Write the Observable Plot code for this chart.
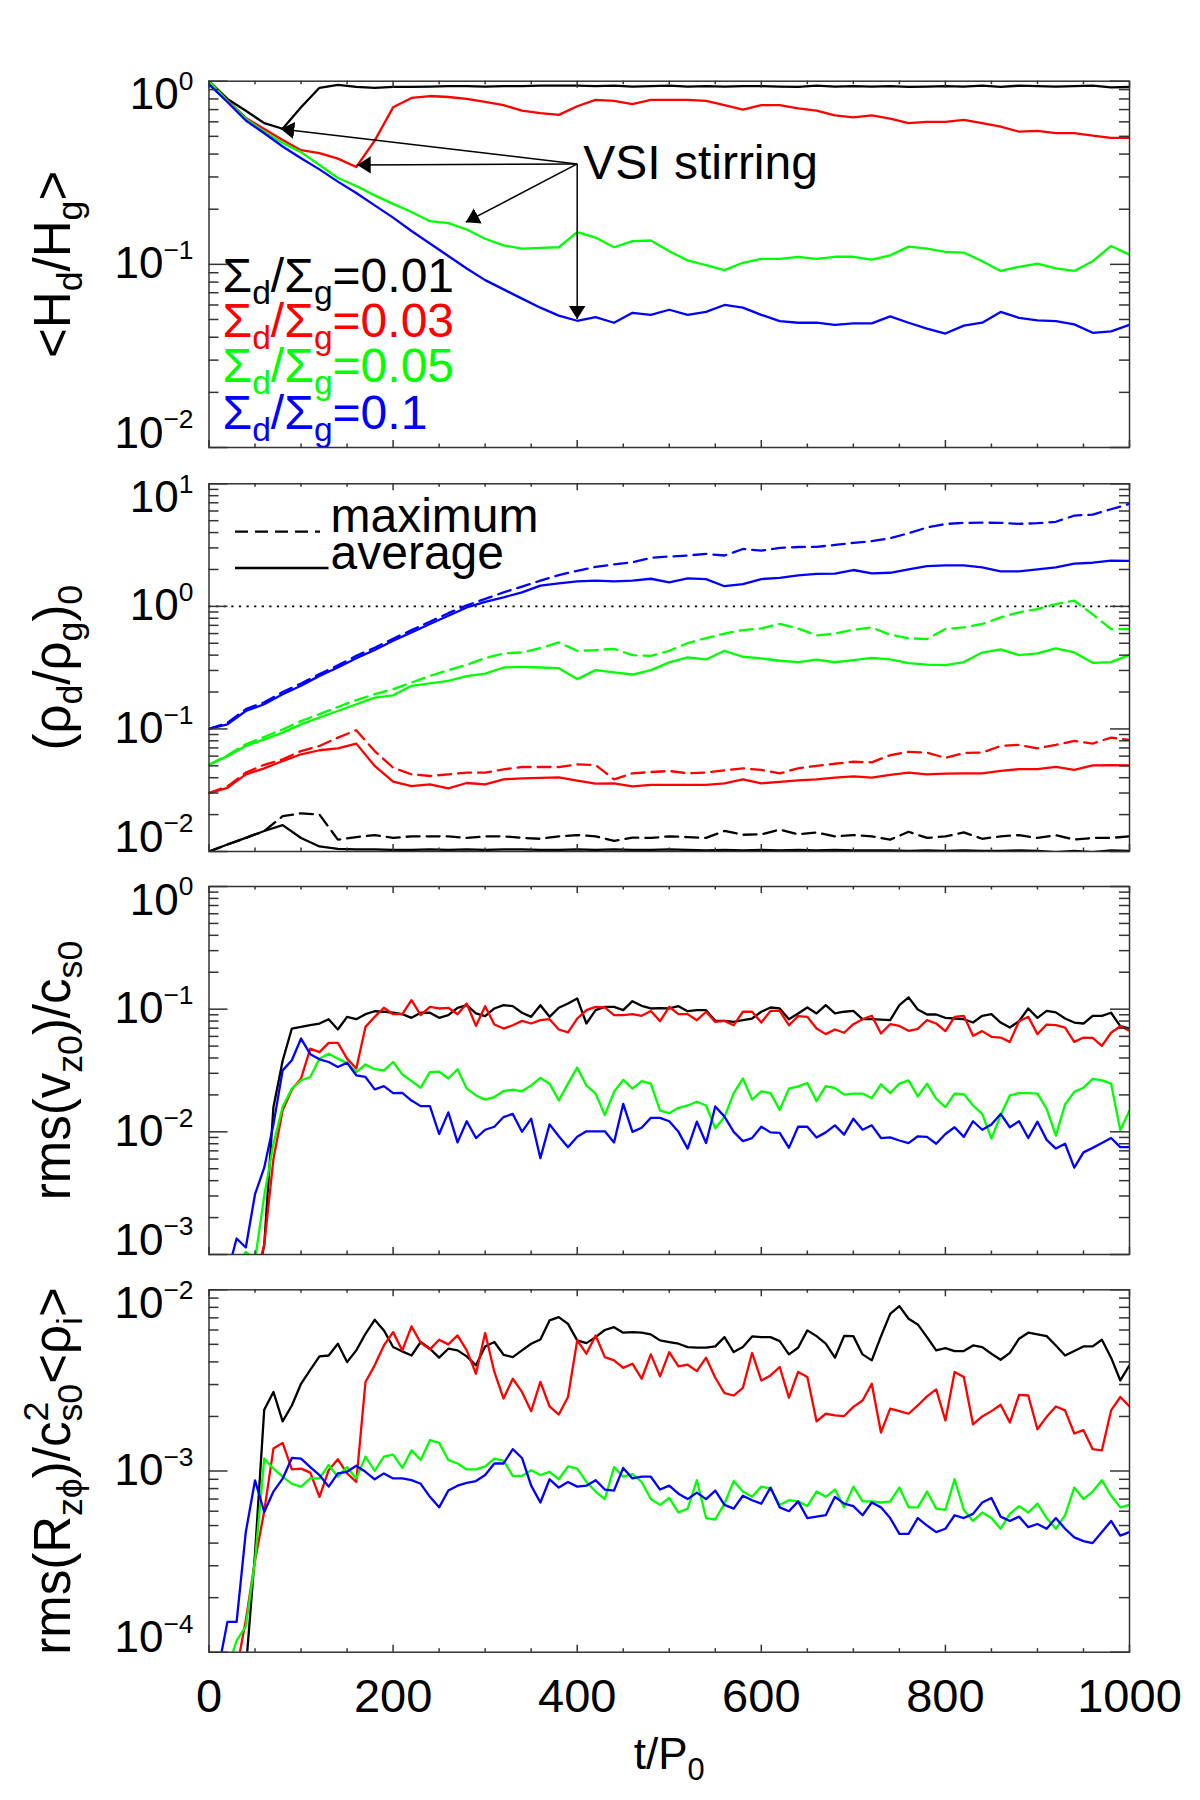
<!DOCTYPE html>
<html>
<head>
<meta charset="utf-8">
<title>Dust settling and VSI stirring</title>
<script src="https://cdn.jsdelivr.net/npm/d3@7"></script>
<script src="https://cdn.jsdelivr.net/npm/@observablehq/plot@0.6"></script>
<style>
  html, body { margin: 0; padding: 0; background: #fff; }
  #chart { width: 1200px; }
  #chart svg { display: block; }
</style>
</head>
<body>
<div id="chart"></div>
<script>
// ================= DATA =================
const seriesLabels = ["Σ_{d}/Σ_{g}=0.01", "Σ_{d}/Σ_{g}=0.03", "Σ_{d}/Σ_{g}=0.05", "Σ_{d}/Σ_{g}=0.1"];
const seriesColors = ["#000000", "#ff0000", "#00ff00", "#0000ff"];

const xMajorTicks = [0, 200, 400, 600, 800, 1000];
const xMinorTicks = [50, 100, 150, 250, 300, 350, 450, 500, 550, 650, 700, 750, 850, 900, 950];

const t20 = [0,20,40,60,80,100,120,140,160,180,200,220,240,260,280,300,320,340,360,380,400,420,440,460,480,500,520,540,560,580,600,620,640,660,680,700,720,740,760,780,800,820,840,860,880,900,920,940,960,980,1000];
const t10 = [0,10,20,30,40,50,60,70,80,90,100,110,120,130,140,150,160,170,180,190,200,210,220,230,240,250,260,270,280,290,300,310,320,330,340,350,360,370,380,390,400,410,420,430,440,450,460,470,480,490,500,510,520,530,540,550,560,570,580,590,600,610,620,630,640,650,660,670,680,690,700,710,720,730,740,750,760,770,780,790,800,810,820,830,840,850,860,870,880,890,900,910,920,930,940,950,960,970,980,990,1000];

// Panel 1: <H_d/H_g>  (sampled on t20)
const hdBlack = [1.0,0.80,0.69,0.59,0.55,0.72,0.92,0.955,0.93,0.92, 0.93,0.93,0.935,0.94,0.94,0.935,0.94,0.94,0.945,0.945, 0.945,0.94,0.945,0.935,0.94,0.945,0.935,0.94,0.935,0.94, 0.94,0.935,0.93,0.945,0.935,0.94,0.935,0.94,0.93,0.935, 0.94,0.935,0.945,0.93,0.945,0.94,0.935,0.94,0.945,0.925, 0.93];
const hdRed = [1.0,0.785,0.63,0.549,0.478,0.42,0.405,0.378,0.34,0.474, 0.72,0.81,0.83,0.82,0.80,0.77,0.74,0.69,0.67,0.655, 0.73,0.79,0.78,0.75,0.79,0.79,0.79,0.78,0.74,0.70, 0.74,0.74,0.71,0.69,0.65,0.635,0.65,0.625,0.59,0.60, 0.60,0.615,0.59,0.565,0.53,0.535,0.52,0.52,0.505,0.49, 0.49];
const hdGreen = [1.0,0.78,0.623,0.53,0.46,0.41,0.349,0.296,0.268,0.238, 0.214,0.193,0.172,0.168,0.155,0.138,0.127,0.122,0.123,0.124, 0.15,0.14,0.124,0.134,0.135,0.118,0.105,0.099,0.093,0.102, 0.107,0.107,0.110,0.107,0.110,0.110,0.106,0.112,0.125,0.122, 0.117,0.116,0.104,0.092,0.097,0.101,0.095,0.092,0.104,0.126, 0.113];
const hdBlue = [0.96,0.77,0.61,0.52,0.44,0.38,0.33,0.283,0.245,0.21, 0.18,0.152,0.13,0.111,0.095,0.082,0.073,0.065,0.058,0.0525, 0.0492,0.0515,0.048,0.0544,0.053,0.0565,0.053,0.055,0.060,0.058, 0.053,0.049,0.048,0.048,0.0467,0.0476,0.0476,0.052,0.048,0.0446, 0.0419,0.0463,0.048,0.055,0.051,0.0495,0.049,0.047,0.0423,0.0431, 0.0467];

// VSI stirring annotation (origin and arrow targets, data coordinates)
const stirOrigin = {t: 400, v: 0.3535};
const stirTargetT = [78, 161, 279, 400];
const stirTargetV = [0.549, 0.349, 0.170, 0.0503];

// Panel 2: (rho_d/rho_g)_0 average (solid) and maximum (dashed)  (t20)
const rhoAvgBlack = [0.0100,0.0114,0.0129,0.0147,0.0164,0.0129,0.0110,0.0105,0.0104,0.0104, 0.0103,0.0103,0.0104,0.0103,0.0104,0.0103,0.0104,0.0104,0.0103,0.0103, 0.0104,0.0103,0.0104,0.0103,0.0103,0.0104,0.0103,0.0102,0.0103,0.0102, 0.0103,0.0102,0.0103,0.0102,0.0103,0.0102,0.0102,0.0102,0.0101,0.0102, 0.0101,0.0102,0.0101,0.0101,0.0102,0.0101,0.0099,0.0101,0.0099,0.0102, 0.0101];
const rhoMaxBlack = [0.0100,0.0114,0.0129,0.0147,0.0194,0.0205,0.0200,0.0125,0.0131,0.0136, 0.0129,0.0133,0.0133,0.0133,0.0129,0.0133,0.0133,0.0129,0.0127,0.0133, 0.0136,0.0133,0.0122,0.0130,0.0129,0.0133,0.0131,0.0129,0.0147,0.0137, 0.0138,0.0151,0.0138,0.0143,0.0133,0.0136,0.0133,0.0125,0.0145,0.0129, 0.0133,0.0143,0.0127,0.0133,0.0136,0.0129,0.0136,0.0125,0.0129,0.0129, 0.0133];
const rhoAvgRed = [0.030,0.033,0.0426,0.0477,0.0547,0.0621,0.067,0.0695,0.0759,0.0499, 0.0371,0.0342,0.0353,0.0327,0.0362,0.0353,0.0388,0.0395,0.0399,0.0403, 0.0379,0.0358,0.036,0.034,0.0349,0.035,0.0349,0.0349,0.036,0.0388, 0.036,0.037,0.038,0.0388,0.040,0.041,0.040,0.0421,0.044,0.0426, 0.0432,0.0434,0.0434,0.0454,0.047,0.047,0.049,0.0463,0.0504,0.0507, 0.0504];
const rhoMaxRed = [0.030,0.034,0.044,0.051,0.0565,0.066,0.0726,0.085,0.0975,0.066, 0.0483,0.0426,0.0413,0.0426,0.044,0.044,0.0468,0.0489,0.0489,0.0489, 0.0514,0.0508,0.0388,0.0434,0.0445,0.0454,0.0434,0.044,0.046,0.0477, 0.0463,0.0434,0.0477,0.050,0.052,0.054,0.0534,0.061,0.065,0.064, 0.058,0.0637,0.0641,0.0726,0.0741,0.0695,0.0741,0.0798,0.076,0.085, 0.0812];
const rhoAvgGreen = [0.051,0.060,0.0726,0.0823,0.0933,0.109,0.124,0.140,0.159,0.180, 0.188,0.225,0.235,0.247,0.270,0.283,0.317,0.321,0.317,0.313, 0.255,0.302,0.289,0.278,0.302,0.349,0.383,0.369,0.434,0.388, 0.376,0.36,0.351,0.367,0.35,0.364,0.380,0.369,0.344,0.335, 0.331,0.351,0.42,0.445,0.40,0.413,0.454,0.421,0.346,0.351, 0.403];
const rhoMaxGreen = [0.051,0.061,0.075,0.086,0.099,0.116,0.132,0.151,0.172,0.192, 0.211,0.239,0.271,0.302,0.334,0.378,0.413,0.421,0.457,0.508, 0.434,0.44,0.45,0.40,0.395,0.434,0.502,0.551,0.60,0.641, 0.661,0.72,0.66,0.58,0.60,0.645,0.674,0.586,0.55,0.541, 0.653,0.674,0.718,0.813,0.893,0.951,1.045,1.112,0.86,0.653, 0.653];
const rhoAvgBlue = [0.10,0.109,0.14,0.159,0.192,0.225,0.271,0.317,0.378,0.44, 0.524,0.613,0.717,0.839,0.98,1.09,1.185,1.30,1.476,1.54, 1.60,1.62,1.60,1.62,1.68,1.57,1.69,1.67,1.46,1.52, 1.67,1.71,1.79,1.84,1.85,1.98,1.86,1.88,2.0,2.13, 2.16,2.16,2.08,1.93,1.93,2.0,2.08,2.23,2.27,2.36, 2.35];
const rhoMaxBlue = [0.10,0.112,0.145,0.165,0.20,0.235,0.28,0.33,0.395,0.46, 0.545,0.64,0.75,0.88,1.02,1.15,1.30,1.45,1.62,1.80, 1.95,2.10,2.2,2.29,2.49,2.55,2.6,2.68,2.6,2.94, 2.85,3.0,3.05,3.06,3.17,3.3,3.4,3.6,3.95,4.4, 4.7,4.8,4.82,4.8,4.71,4.77,4.9,5.5,5.61,6.2, 6.86];
const rhoReference = [1];

// Panel 3: rms(v_z0)/c_s0  (t10)
const vzBlack = [0.0002,0.0002,0.0002,0.0002,0.0003,0.0005,0.0012,0.0159,0.038,0.0695, 0.0717,0.074,0.0764,0.0828,0.0683,0.0866,0.0828,0.091,0.0962,0.0953, 0.0935,0.091,0.085,0.0935,0.0935,0.085,0.0894,0.1026,0.1078,0.0923, 0.0877,0.1013,0.1078,0.1058,0.0935,0.0866,0.1078,0.0866,0.1026,0.1112, 0.1223,0.0764,0.0981,0.1045,0.1045,0.0981,0.1162,0.1065,0.1013,0.1019, 0.1013,0.1058,0.0962,0.0981,0.0981,0.0803,0.0803,0.0788,0.0813,0.0839, 0.0953,0.1032,0.1013,0.0828,0.0923,0.1032,0.0923,0.1078,0.0923,0.0953, 0.0968,0.0828,0.0828,0.0823,0.0813,0.1078,0.1248,0.0994,0.0905,0.0905, 0.085,0.0839,0.0828,0.0778,0.0883,0.091,0.0778,0.0708,0.0798,0.1013, 0.085,0.0968,0.0941,0.0839,0.0778,0.0764,0.0883,0.0883,0.0935,0.0726, 0.0695];
const vzRed = [0.0002,0.0002,0.0003,0.0003,0.0004,0.0006,0.0012,0.006,0.015,0.022, 0.0272,0.0477,0.0447,0.0531,0.0531,0.0395,0.0328,0.0717,0.0866,0.1026, 0.091,0.091,0.1185,0.0894,0.1045,0.1013,0.1026,0.091,0.1112,0.073, 0.1058,0.0749,0.0695,0.074,0.0803,0.0764,0.0813,0.0828,0.0683,0.0646, 0.0839,0.0981,0.1045,0.1032,0.0894,0.0894,0.091,0.0883,0.0968,0.0798, 0.1045,0.091,0.091,0.0813,0.0953,0.0788,0.0803,0.074,0.0953,0.0953, 0.0778,0.0968,0.0968,0.074,0.0877,0.0866,0.0695,0.0626,0.0683,0.0642, 0.0754,0.0828,0.0883,0.0634,0.0754,0.073,0.0666,0.0691,0.0813,0.0764, 0.0662,0.0866,0.0883,0.0606,0.0662,0.0595,0.0587,0.0541,0.0798,0.0866, 0.0626,0.0749,0.074,0.0708,0.0541,0.0587,0.0584,0.0502,0.0642,0.0726, 0.0666];
const vzGreen = [0.0003,0.0004,0.0006,0.0008,0.00105,0.0009,0.0030,0.0080,0.0160,0.0225, 0.0263,0.028,0.0395,0.0434,0.0395,0.0364,0.0307,0.0354,0.0324,0.0317, 0.0371,0.0294,0.0259,0.0229,0.0307,0.031,0.0272,0.0324,0.0225,0.0198, 0.0183,0.0192,0.0215,0.0221,0.0214,0.0239,0.0275,0.0247,0.018,0.0247, 0.0334,0.0239,0.0205,0.0137,0.0212,0.0265,0.0225,0.0259,0.0247,0.0149, 0.0142,0.0157,0.0164,0.0176,0.0164,0.0107,0.0132,0.0207,0.0272,0.0183, 0.0214,0.0207,0.0151,0.0225,0.0235,0.025,0.0178,0.0236,0.0227,0.0201, 0.0205,0.0205,0.0188,0.0244,0.0207,0.0247,0.0263,0.0194,0.0247,0.0186, 0.0159,0.0205,0.0203,0.0164,0.014,0.0088,0.0137,0.0198,0.0207,0.0207, 0.0205,0.0154,0.0093,0.0167,0.0212,0.0229,0.027,0.0263,0.0247,0.0103, 0.0149];
const vzBlue = [0.0003,0.0004,0.0007,0.00135,0.00114,0.0031,0.0051,0.0115,0.0317,0.0383, 0.0576,0.043,0.039,0.0371,0.0338,0.0366,0.0289,0.028,0.0222,0.0236, 0.0207,0.0208,0.018,0.0162,0.0162,0.0096,0.0144,0.0082,0.0122,0.0089, 0.0104,0.0110,0.0132,0.014,0.0100,0.0128,0.0061,0.0115,0.0092,0.0075, 0.0091,0.0101,0.0101,0.0101,0.0082,0.0169,0.0100,0.0108,0.013,0.013, 0.0122,0.0100,0.0073,0.0121,0.0081,0.0161,0.0133,0.0100,0.0084,0.0089, 0.011,0.0099,0.0098,0.0074,0.011,0.011,0.009,0.0099,0.0113,0.0095, 0.0128,0.0104,0.0113,0.0089,0.009,0.0085,0.0081,0.0092,0.0091,0.008, 0.0096,0.0109,0.0091,0.0122,0.0104,0.0115,0.014,0.0109,0.0122,0.0089, 0.0121,0.0086,0.0073,0.008,0.0051,0.0068,0.0074,0.0081,0.0089,0.0075, 0.0075];

// Panel 4: rms(R_zphi)/(c_s0^2 <rho_i>)  (t10)
const rzBlack = [0.00003,0.00004,0.00005,0.00006,0.00008,0.00035,0.00218,0.00273,0.00188,0.0023, 0.00303,0.00362,0.00429,0.00434,0.00504,0.00399,0.00463,0.00572,0.00683,0.00597, 0.00483,0.00457,0.00434,0.00515,0.00473,0.00422,0.00473,0.00463,0.00429,0.00383, 0.00487,0.00515,0.00438,0.00425,0.00463,0.00504,0.00532,0.00678,0.00707,0.00649, 0.00526,0.00508,0.00548,0.006,0.00622,0.0058,0.00584,0.0058,0.00567,0.00526, 0.00515,0.00504,0.00483,0.00479,0.00479,0.00487,0.00548,0.00453,0.00483,0.00553, 0.00548,0.00548,0.00521,0.0044,0.00479,0.00597,0.00555,0.00504,0.00422,0.00557, 0.00555,0.0044,0.00408,0.00553,0.00737,0.00813,0.00692,0.00644,0.00548,0.00463, 0.00477,0.00459,0.00459,0.00493,0.00483,0.00444,0.00411,0.00449,0.00537,0.0058, 0.00567,0.00555,0.00493,0.00434,0.00459,0.00487,0.00487,0.0053,0.00422,0.00316, 0.00383];
const rzRed = [0.00004,0.00005,0.00006,0.00008,0.00015,0.00032,0.0006,0.00133,0.00143,0.00102, 0.00103,0.00098,0.00072,0.00101,0.00116,0.00097,0.00087,0.0031,0.00383,0.00493, 0.00584,0.00463,0.00628,0.0051,0.00469,0.0053,0.005,0.0056,0.00463,0.00344, 0.00577,0.00352,0.00251,0.00323,0.00273,0.00214,0.0031,0.00227,0.00205,0.00256, 0.00526,0.00444,0.0056,0.00425,0.00408,0.00371,0.00391,0.00323,0.0044,0.00333, 0.00453,0.00378,0.00386,0.00356,0.00422,0.00327,0.00269,0.00261,0.00288,0.00448, 0.00316,0.00337,0.00375,0.00254,0.00352,0.0033,0.00188,0.00207,0.00203,0.00201, 0.00226,0.00245,0.00303,0.00163,0.00221,0.00214,0.00207,0.0023,0.00258,0.00282, 0.0019,0.00352,0.0033,0.00181,0.002,0.00214,0.00232,0.00185,0.00263,0.00261, 0.0017,0.00199,0.00227,0.00216,0.00161,0.00168,0.00132,0.0013,0.00216,0.00256, 0.00227];
const rzGreen = [0.00005,0.00006,0.00008,0.000116,0.000139,0.00032,0.00117,0.00103,0.00093,0.00085, 0.00082,0.00091,0.00091,0.00108,0.00093,0.00105,0.00091,0.0012,0.001,0.0012, 0.00123,0.00104,0.0013,0.00115,0.00148,0.00143,0.00115,0.0011,0.00102,0.00102, 0.00106,0.00117,0.00114,0.00094,0.00094,0.00101,0.00095,0.00099,0.0009,0.00106, 0.00103,0.00087,0.00077,0.0007,0.00105,0.00093,0.00096,0.00087,0.0007,0.00065, 0.00071,0.00059,0.00062,0.00089,0.00055,0.00054,0.00066,0.00088,0.00077,0.00072, 0.00082,0.0008,0.00065,0.00069,0.00068,0.00064,0.00077,0.00072,0.00079,0.00063, 0.00082,0.00068,0.00068,0.00067,0.00068,0.00081,0.00063,0.00063,0.00077,0.00062, 0.00061,0.0009,0.00061,0.00053,0.00059,0.00055,0.00048,0.00058,0.00064,0.00059, 0.00066,0.00055,0.00048,0.00057,0.00081,0.0007,0.00077,0.00089,0.00073,0.00063, 0.00065];
const rzBlue = [0.00006,0.00008,0.000147,0.000147,0.000461,0.000888,0.000594,0.00077,0.000907,0.00118, 0.00117,0.00105,0.00095,0.00082,0.00097,0.00099,0.00107,0.00099,0.0009,0.00097, 0.00091,0.00091,0.00089,0.00085,0.00072,0.00063,0.00078,0.00083,0.00086,0.00088, 0.00095,0.0011,0.0011,0.00132,0.00118,0.00083,0.00067,0.0009,0.00081,0.00087, 0.00082,0.00083,0.00089,0.00079,0.00078,0.00104,0.00091,0.00093,0.00093,0.00079, 0.00083,0.00075,0.0007,0.00076,0.0007,0.00078,0.00065,0.00062,0.00073,0.00069, 0.00066,0.00081,0.00063,0.0006,0.00068,0.00055,0.00056,0.00057,0.00072,0.00066, 0.00064,0.00057,0.00067,0.00063,0.00055,0.00045,0.00045,0.00055,0.0005,0.00046, 0.00048,0.00057,0.00055,0.00058,0.00067,0.00071,0.00056,0.00053,0.00056,0.00049, 0.00051,0.00048,0.00055,0.00048,0.00043,0.00041,0.0004,0.00046,0.00053,0.00044, 0.00046];

// ================= LAYOUT / STYLE =================
const FONT = "'Liberation Sans', Arial, Helvetica, sans-serif";
const WIDTH = 1200, ML = 208.5, MR = 71, FW = WIDTH - ML - MR;
const AX = "#333";
const LW = 2.3;

function logTicks(e0, e1) {
  const major = [], minor = [];
  for (let e = e0; e <= e1; e++) {
    major.push(Math.pow(10, e));
    if (e < e1) for (let k = 2; k <= 9; k++) minor.push(k * Math.pow(10, e));
  }
  return {major, minor};
}

function frameAndTicks(fh, yMaj, yMin) {
  const s = {stroke: AX, strokeWidth: 1.5};
  return [
    Plot.tickY(yMaj, {y: d => d, insetRight: FW - 19, ...s}),
    Plot.tickY(yMin, {y: d => d, insetRight: FW - 10, ...s}),
    Plot.tickY(yMaj, {y: d => d, insetLeft: FW - 19, ...s}),
    Plot.tickY(yMin, {y: d => d, insetLeft: FW - 10, ...s}),
    Plot.tickX(xMajorTicks, {x: d => d, insetTop: fh - 7, ...s}),
    Plot.tickX(xMinorTicks, {x: d => d, insetTop: fh - 3.5, ...s}),
    Plot.tickX(xMajorTicks, {x: d => d, insetBottom: fh - 7, ...s}),
    Plot.tickX(xMinorTicks, {x: d => d, insetBottom: fh - 3.5, ...s}),
    Plot.frame(s)
  ];
}

function yTickLabels(yMaj) {
  const fmt = d => { const e = Math.round(Math.log10(d)); return "10^{" + (e < 0 ? "\u2212" + (-e) : String(e)) + "}"; };
  const base = {y: d => d, text: fmt, frameAnchor: "left", dx: -15.5, textAnchor: "end", fontSize: 44, fill: "black"};
  return [
    Plot.text(yMaj.slice(-1), {...base, lineAnchor: "top", dy: -3}),
    Plot.text(yMaj.slice(1, -1), {...base, lineAnchor: "middle"}),
    Plot.text(yMaj.slice(0, 1), {...base, lineAnchor: "bottom"})
  ];
}

function yTitle(str) {
  return Plot.text([str], {text: d => d, frameAnchor: "left", dx: 69 - ML, rotate: -90,
    textAnchor: "middle", lineAnchor: "bottom", fontSize: 51, fill: "black"});
}

function seriesLine(tArr, vals, color, extra = {}) {
  return Plot.line(tArr, {x: d => d, y: vals, stroke: color, strokeWidth: LW, clip: true, ...extra});
}

function makePanel(o) {
  const fh = o.height - o.mt - o.mb;
  const {major, minor} = logTicks(o.e0, o.e1);
  return Plot.plot({
    width: WIDTH, height: o.height,
    marginLeft: ML, marginRight: MR, marginTop: o.mt, marginBottom: o.mb,
    x: {domain: [0, 1000], axis: null},
    y: {type: "log", domain: [major[0], major[major.length - 1]], axis: null},
    style: {fontFamily: FONT, background: "white", overflow: "visible", color: "black"},
    marks: [
      ...o.marks,
      ...frameAndTicks(fh, major, minor),
      ...yTickLabels(major),
      yTitle(o.title),
      ...(o.extra || [])
    ]
  });
}

// ---- Panel 1 ----
const p1 = makePanel({
  height: 465, mt: 80.7, mb: 18, e0: -2, e1: 0,
  title: "<H_{d}/H_{g}>",
  marks: [
    seriesLine(t20, hdBlack, seriesColors[0]),
    seriesLine(t20, hdRed, seriesColors[1]),
    seriesLine(t20, hdGreen, seriesColors[2]),
    seriesLine(t20, hdBlue, seriesColors[3]),
    Plot.link(stirTargetT, {x1: () => stirOrigin.t, y1: () => stirOrigin.v, x2: d => d, y2: stirTargetV,
      stroke: "black", strokeWidth: 1.5, markerEnd: "arrow"}),
    Plot.text([stirOrigin], {x: "t", y: "v", text: () => "VSI stirring", dx: 6, textAnchor: "start",
      lineAnchor: "middle", fontSize: 48, fill: "black"}),
    ...seriesLabels.map((lab, i) => Plot.text([lab], {text: d => d, frameAnchor: "top-left", dx: 13.5,
      dy: [211, 256, 301, 348][i], lineAnchor: "bottom", textAnchor: "start", fontSize: 48, fill: seriesColors[i]}))
  ]
});

// ---- Panel 2 ----
const dash = "13,7";
const p2 = makePanel({
  height: 404, mt: 18.3, mb: 18, e0: -2, e1: 1,
  title: "(ρ_{d}/ρ_{g})_{0}",
  marks: [
    Plot.ruleY(rhoReference, {stroke: "black", strokeWidth: 1.6, strokeDasharray: "2.2,5.4"}),
    seriesLine(t20, rhoAvgBlack, seriesColors[0]),
    seriesLine(t20, rhoMaxBlack, seriesColors[0], {strokeDasharray: dash}),
    seriesLine(t20, rhoAvgRed, seriesColors[1]),
    seriesLine(t20, rhoMaxRed, seriesColors[1], {strokeDasharray: dash}),
    seriesLine(t20, rhoAvgGreen, seriesColors[2]),
    seriesLine(t20, rhoMaxGreen, seriesColors[2], {strokeDasharray: dash}),
    seriesLine(t20, rhoAvgBlue, seriesColors[3]),
    seriesLine(t20, rhoMaxBlue, seriesColors[3], {strokeDasharray: dash}),
    Plot.text(["maximum"], {text: d => d, frameAnchor: "top-left", dx: 121.5, dy: 48.4, lineAnchor: "bottom", fontSize: 48, fill: "black"}),
    Plot.text(["average"], {text: d => d, frameAnchor: "top-left", dx: 121.5, dy: 84.7, lineAnchor: "bottom", fontSize: 48, fill: "black"})
  ]
});

// ---- Panel 3 ----
const p3 = makePanel({
  height: 402, mt: 17, mb: 17, e0: -3, e1: 0,
  title: "rms(v_{z0})/c_{s0}",
  marks: [
    seriesLine(t10, vzBlack, seriesColors[0]),
    seriesLine(t10, vzRed, seriesColors[1]),
    seriesLine(t10, vzGreen, seriesColors[2]),
    seriesLine(t10, vzBlue, seriesColors[3])
  ]
});

// ---- Panel 4 ----
const p4 = makePanel({
  height: 529, mt: 18.3, mb: 148.3, e0: -4, e1: -2,
  title: "rms(R_{zϕ})/c^{2}_{s0}<ρ_{i}>",
  marks: [
    seriesLine(t10, rzBlack, seriesColors[0]),
    seriesLine(t10, rzRed, seriesColors[1]),
    seriesLine(t10, rzGreen, seriesColors[2]),
    seriesLine(t10, rzBlue, seriesColors[3])
  ],
  extra: [
    Plot.text(xMajorTicks, {x: d => d, text: d => String(d), frameAnchor: "bottom", dy: 26, lineAnchor: "top", fontSize: 47, fill: "black"}),
    Plot.text(["t/P_{0}"], {text: d => d, frameAnchor: "bottom", dy: 86, lineAnchor: "top", fontSize: 44, fill: "black"})
  ]
});

const chart = document.getElementById("chart");
[p1, p2, p3, p4].forEach(s => chart.appendChild(s));

// ---- legend sample lines for panel 2 ----
{
  const g = d3.select(p2).append("g").attr("stroke", "black").attr("stroke-width", LW);
  g.append("line").attr("x1", ML + 26.5).attr("x2", ML + 111.5).attr("y1", 18.3 + 48.4).attr("y2", 18.3 + 48.4).attr("stroke-dasharray", dash);
  g.append("line").attr("x1", ML + 26.5).attr("x2", ML + 120).attr("y1", 18.3 + 84.7).attr("y2", 18.3 + 84.7);
}

// ---- filled arrow heads ----
p1.querySelectorAll("marker").forEach(m => {
  m.setAttribute("viewBox", "-9 -6 9 12");
  m.setAttribute("markerWidth", "9");
  m.setAttribute("markerHeight", "12");
  m.setAttribute("fill", "black");
  m.setAttribute("stroke", "none");
  while (m.firstChild) m.removeChild(m.firstChild);
  const p = document.createElementNS("http://www.w3.org/2000/svg", "path");
  p.setAttribute("d", "M-9,-5.7L0,0L-9,5.7Z");
  m.appendChild(p);
});

// ---- sub/superscript markup: _{..} and ^{..} ----
function richify(root) {
  const NS = "http://www.w3.org/2000/svg";
  root.querySelectorAll("text").forEach(el => {
    const src = el.textContent;
    if (!/[_^]\{/.test(src)) return;
    const F = parseFloat(getComputedStyle(el).fontSize) || 40;
    const isTick = src.startsWith("10^{");
    const size = isTick ? 0.6 : 0.7;
    const supShift = isTick ? -0.44 * F : -0.42 * F;
    const subShift = 0.24 * F;
    const parts = [];
    const re = /([_^])\{([^}]*)\}/g;
    let last = 0, m;
    while ((m = re.exec(src))) {
      if (m.index > last) parts.push({s: src.slice(last, m.index), k: "n"});
      parts.push({s: m[2], k: m[1] === "_" ? "sub" : "sup"});
      last = re.lastIndex;
    }
    if (last < src.length) parts.push({s: src.slice(last), k: "n"});
    el.textContent = "";
    let cur = 0, prev = null;
    parts.forEach(p => {
      const ts = document.createElementNS(NS, "tspan");
      ts.textContent = p.s;
      const target = p.k === "sub" ? subShift : p.k === "sup" ? supShift : 0;
      if (target !== cur) ts.setAttribute("dy", (target - cur).toFixed(2));
      cur = target;
      if (p.k !== "n") ts.setAttribute("font-size", (size * F).toFixed(2));
      el.appendChild(ts);
      if (p.k === "sub" && prev && prev.k === "sup") {
        ts.setAttribute("dx", (-prev.node.getComputedTextLength()).toFixed(2));
      }
      prev = {k: p.k, node: ts};
    });
  });
}
[p1, p2, p3, p4].forEach(richify);
</script>
</body>
</html>
